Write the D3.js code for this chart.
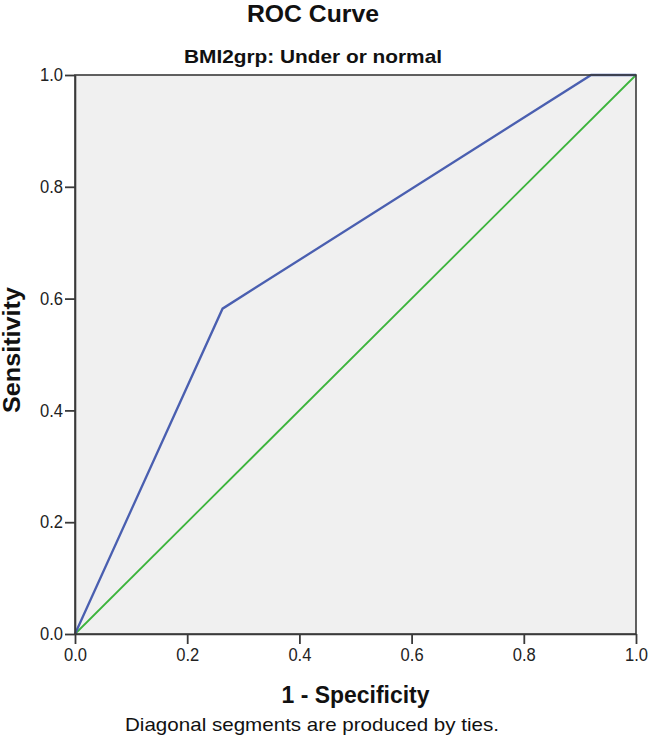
<!DOCTYPE html>
<html>
<head>
<meta charset="utf-8">
<script src="https://cdn.jsdelivr.net/npm/d3@7"></script>
<style>
  body { margin: 0; background: #fff; }
  text { font-family: "Liberation Sans", Arial, sans-serif; }
</style>
</head>
<body>
<div id="chart"></div>
<script>
// ROC points (1 - specificity, sensitivity)
var rocFpr = [0, 0.263, 0.92, 1.0];
var rocTpr = [0, 0.582, 1.0, 1.0];
var refFpr = [0, 1];
var refTpr = [0, 1];
var tickValues = [0, 0.2, 0.4, 0.6, 0.8, 1.0];

var margin = {top: 75, right: 14, bottom: 112, left: 75},
    width = 650 - margin.left - margin.right,
    height = 746 - margin.top - margin.bottom;

var svg = d3.select("#chart")
    .append("svg")
    .attr("width", 650)
    .attr("height", 746);

var g = svg.append("g")
    .attr("transform", "translate(" + margin.left + "," + margin.top + ")");

var x = d3.scaleLinear().domain([0, 1]).range([0, width]);
var y = d3.scaleLinear().domain([0, 1]).range([height, 0]);

g.append("rect")
    .attr("width", width)
    .attr("height", height)
    .attr("fill", "#f0f0f0");

var line = d3.line().x(d => x(d[0])).y(d => y(d[1]));

g.append("path")
    .datum(d3.zip(refFpr, refTpr))
    .attr("d", line)
    .attr("fill", "none")
    .attr("stroke", "#3cb43c")
    .attr("stroke-width", 1.8);

g.append("path")
    .datum(d3.zip(rocFpr, rocTpr))
    .attr("d", line)
    .attr("fill", "none")
    .attr("stroke", "#4a5fb0")
    .attr("stroke-width", 2.3);

g.append("rect")
    .attr("width", width)
    .attr("height", height)
    .attr("fill", "none")
    .attr("stroke", "#3a3a3a")
    .attr("stroke-width", 1.6);

var fmt = d3.format(".1f");
var xAxis = g.append("g")
    .attr("transform", "translate(0," + height + ")")
    .call(d3.axisBottom(x).tickValues(tickValues).tickFormat(fmt).tickSize(10).tickSizeOuter(0).tickPadding(4));
var yAxis = g.append("g")
    .call(d3.axisLeft(y).tickValues(tickValues).tickFormat(fmt).tickSize(10).tickSizeOuter(0).tickPadding(2));

[xAxis, yAxis].forEach(a => {
    a.select(".domain").attr("stroke", "#3a3a3a").attr("stroke-width", 1.6);
    a.selectAll(".tick line").attr("stroke", "#3a3a3a").attr("stroke-width", 1.8);
    a.selectAll(".tick text").attr("font-size", 18).attr("fill", "#222")
        .attr("textLength", 23).attr("lengthAdjust", "spacingAndGlyphs")
        .style("font-family", "'Liberation Sans', Arial, sans-serif");
});

// condensed-looking text: fit each label to its measured width
function label(txt, size, weight, len) {
    return svg.append("text")
        .attr("text-anchor", "middle")
        .attr("font-size", size)
        .attr("font-weight", weight)
        .attr("fill", "#111")
        .attr("textLength", len)
        .attr("lengthAdjust", "spacingAndGlyphs")
        .text(txt);
}

label("ROC Curve", 23, "bold", 132).attr("x", 313).attr("y", 22);
label("BMI2grp: Under or normal", 19, "bold", 258).attr("x", 313).attr("y", 63);
label("1 - Specificity", 24, "bold", 148).attr("x", margin.left + width / 2).attr("y", 703);
label("Sensitivity", 23, "bold", 126)
    .attr("transform", "translate(20,350) rotate(-90)");
label("Diagonal segments are produced by ties.", 19, "normal", 374).attr("x", 312).attr("y", 731);
</script>
</body>
</html>
